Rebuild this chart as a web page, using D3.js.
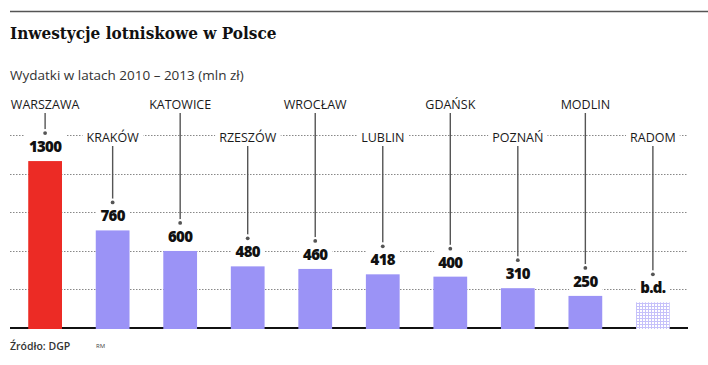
<!DOCTYPE html>
<html>
<head>
<meta charset="utf-8">
<script src="https://cdn.jsdelivr.net/npm/d3@7"></script>
<style>
  body { margin: 0; background: #fff; }
  svg { display: block; }
  .city { font-family: 'Open Sans', sans-serif; font-size: 12.5px; font-weight: 500; fill: #1a1a1a; }
  .val { font-family: 'Open Sans', sans-serif; font-size: 15px; font-weight: 800; fill: #111; letter-spacing: -0.7px; }
</style>
</head>
<body>
<svg width="708" height="365"></svg>
<script>
// dane: wydatki 2010-2013, mln zł
var cities = ['WARSZAWA', 'KRAKÓW', 'KATOWICE', 'RZESZÓW', 'WROCŁAW', 'LUBLIN', 'GDAŃSK', 'POZNAŃ', 'MODLIN', 'RADOM'];
var values = [1300, 760, 600, 480, 460, 418, 400, 310, 250, null];
var gridTicks = [300, 600, 900, 1200, 1500];
var noDataLabel = 'b.d.';
var noDataHeight = 200; // wysokość zastępczego słupka (brak danych)

var svg = d3.select('svg');

var x = d3.scaleBand()
  .domain(cities)
  .range([10, 688])
  .paddingInner(0.5)
  .paddingOuter(0.27);

var y = d3.scaleLinear()
  .domain([0, 1500])
  .range([328, 135.4]);

// kreska na górze
svg.append('line')
  .attr('x1', 10).attr('x2', 708)
  .attr('y1', 11.5).attr('y2', 11.5)
  .style('stroke', '#555').style('stroke-width', 1.3);

svg.append('text')
  .attr('x', 10).attr('y', 39)
  .style('font-family', "'DejaVu Serif Condensed', 'DejaVu Serif', serif")
  .style('font-weight', 'bold')
  .style('font-size', '17px')
  .style('fill', '#111')
  .text('Inwestycje lotniskowe w Polsce');

svg.append('text')
  .attr('x', 10).attr('y', 80)
  .style('font-family', "'Open Sans', sans-serif")
  .style('font-size', '13.5px')
  .style('fill', '#333')
  .text('Wydatki w latach 2010 – 2013 (mln zł)');

// pattern for missing data
var defs = svg.append('defs');
var pat = defs.append('pattern')
  .attr('id', 'hatch')
  .attr('width', 3).attr('height', 3)
  .attr('patternUnits', 'userSpaceOnUse');
pat.append('rect').attr('width', 3).attr('height', 3).attr('fill', '#fff');
pat.append('rect').attr('width', 3).attr('height', 1).attr('fill', '#c6c1fa');
pat.append('rect').attr('width', 1).attr('height', 3).attr('fill', '#c6c1fa');

// gridlines
svg.append('g')
  .selectAll('line')
  .data(gridTicks)
  .enter()
  .append('line')
  .attr('x1', 10).attr('x2', 688)
  .attr('y1', d => Math.round(y(d)) + 0.5)
  .attr('y2', d => Math.round(y(d)) + 0.5)
  .style('stroke', '#888')
  .style('stroke-width', 1)
  .style('stroke-dasharray', '1.5,1.5');

// baseline
svg.append('line')
  .attr('x1', 10).attr('x2', 688)
  .attr('y1', y(0)).attr('y2', y(0))
  .style('stroke', '#111').style('stroke-width', 2.2);

var data = cities.map((c, i) => ({ city: c, value: values[i], row: i % 2 }));

var g = svg.append('g')
  .selectAll('g')
  .data(data)
  .enter()
  .append('g')
  .attr('transform', d => 'translate(' + x(d.city) + ',0)');

var bw = x.bandwidth();
var cx = bw / 2;
function barTop(d) { return y(d.value == null ? noDataHeight : d.value); }

g.append('rect')
  .attr('x', 0)
  .attr('width', bw)
  .attr('y', d => barTop(d))
  .attr('height', d => y(0) + 1 - barTop(d))
  .attr('fill', (d, i) => d.value == null ? 'url(#hatch)' : (i === 0 ? '#ec2b25' : '#9b93f6'));

// city labels with white backing
var rowY = [108.5, 142];
var lineStart = [113, 146];

g.each(function (d) {
  var el = d3.select(this);
  var t = el.append('text')
    .attr('class', 'city')
    .attr('x', cx)
    .attr('y', rowY[d.row])
    .attr('text-anchor', 'middle')
    .text(d.city);
  var b = t.node().getBBox();
  el.insert('rect', 'text')
    .attr('x', b.x - 4).attr('width', b.width + 8)
    .attr('y', b.y - 1).attr('height', b.height + 2)
    .attr('fill', '#fff');

  var vy = barTop(d) - 9;
  var v = el.append('text')
    .attr('class', 'val')
    .attr('x', cx)
    .attr('y', vy)
    .attr('text-anchor', 'middle')
    .text(d.value == null ? noDataLabel : d.value);
  var vb = v.node().getBBox();
  el.insert('rect', '.val')
    .attr('x', vb.x - 4).attr('width', vb.width + 8)
    .attr('y', vb.y - 2).attr('height', vb.height + 3)
    .attr('fill', '#fff');

  var dotY = barTop(d) - 28;
  el.append('line')
    .attr('x1', cx).attr('x2', cx)
    .attr('y1', lineStart[d.row]).attr('y2', dotY)
    .style('stroke', '#555').style('stroke-width', 1.4);
  el.append('circle')
    .attr('cx', cx).attr('cy', dotY).attr('r', 4)
    .attr('fill', '#fff');
  el.append('circle')
    .attr('cx', cx).attr('cy', dotY).attr('r', 1.9)
    .attr('fill', '#555');
});

// footer
svg.append('text')
  .attr('x', 10).attr('y', 350)
  .style('font-family', "'Open Sans', sans-serif")
  .style('font-size', '10.5px')
  .style('font-weight', 600)
  .style('fill', '#333')
  .text('Źródło: DGP');

svg.append('text')
  .attr('x', 96).attr('y', 348)
  .style('font-family', "'Open Sans', sans-serif")
  .style('font-size', '6px')
  .style('fill', '#444')
  .text('RM');
</script>
</body>
</html>
